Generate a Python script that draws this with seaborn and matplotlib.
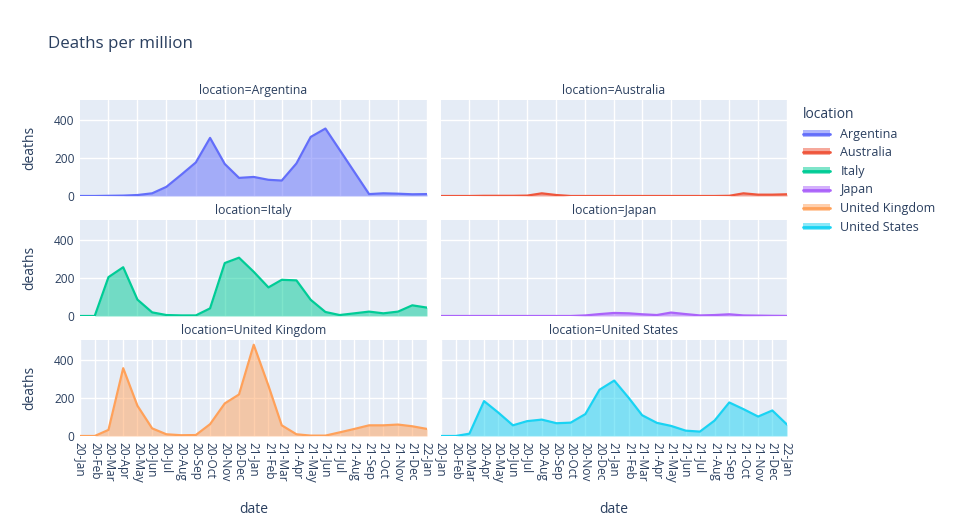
import pandas as pd
import numpy as np
import seaborn as sns
import matplotlib.pyplot as plt
from matplotlib.patches import Patch
from matplotlib.lines import Line2D

# monthly deaths per million, Jan 2020 .. Jan 2022
months = pd.date_range('2020-01-01', '2022-01-01', freq='MS')

argentina = [0, 0, 1, 2, 5, 14, 48, 111, 176, 305, 168, 95, 100, 85, 81,
             171, 310, 354, 242, 126, 10, 14, 12, 9, 10]
australia = [0, 0, 0, 1, 1, 1, 2, 14, 5, 0, 0, 0, 0, 0, 0,
             0, 0, 0, 0, 0, 1, 14, 7, 7, 9]
italy = [0, 0, 204, 256, 86, 19, 5, 3, 3, 40, 278, 306, 232, 150, 190,
         187, 85, 21, 5, 14, 23, 14, 23, 56, 44]
japan = [0, 0, 0, 0, 0, 0, 0, 0, 0, 0, 3, 10, 16, 14, 9,
         5, 18, 10, 3, 5, 9, 3, 2, 1, 0.5]
uk = [0, 0, 32, 356, 159, 40, 9, 4, 5, 62, 171, 218, 479, 264, 56,
      9, 2, 2, 19, 37, 56, 56, 60, 51, 37]
us = [0, 0, 12, 183, 123, 56, 78, 86, 67, 70, 115, 243, 291, 199, 109,
      69, 53, 28, 23, 81, 176, 141, 102, 134, 60]

locations = ['Argentina', 'Australia', 'Italy', 'Japan', 'United Kingdom', 'United States']
series = [argentina, australia, italy, japan, uk, us]
colors = ['#636EFA', '#EF553B', '#00CC96', '#AB63FA', '#FFA15A', '#19D3F3']

df = pd.concat([pd.DataFrame({'date': months, 'deaths': v, 'location': loc})
                for loc, v in zip(locations, series)], ignore_index=True)

sns.set_theme(style='darkgrid', rc={
    'axes.facecolor': '#E5ECF6',
    'grid.color': 'white',
    'grid.linewidth': 1.0,
    'text.color': '#2a3f5f',
    'axes.labelcolor': '#2a3f5f',
    'xtick.color': '#2a3f5f',
    'ytick.color': '#2a3f5f',
})
plt.rcParams['font.family'] = ['Open Sans', 'DejaVu Sans']

W, H = 954, 525
fig = plt.figure(figsize=(W / 100, H / 100), dpi=100)

col_x = [(80, 347), (441, 346)]
row_y = [(100, 196), (220, 316), (340, 436)]

for i, (loc, c) in enumerate(zip(locations, colors)):
    r, col = divmod(i, 2)
    x0, w = col_x[col]
    top, bot = row_y[r]
    ax = fig.add_axes([x0 / W, (H - bot) / H, w / W, (bot - top) / H])
    sub = df[df['location'] == loc]
    sns.lineplot(data=sub, x='date', y='deaths', color=c, linewidth=1.6, ax=ax, legend=False)
    ax.fill_between(sub['date'], sub['deaths'], color=c, alpha=0.5, linewidth=0)
    ax.set_xlim(months[0], months[-1])
    ax.set_ylim(0, 504)
    ax.set_yticks([0, 200, 400])
    for s in ax.spines.values():
        s.set_visible(False)
    ax.tick_params(length=0, labelsize=8.6, pad=4)
    ax.set_title(f'location={loc}', fontsize=8.8, pad=4, color='#2a3f5f')
    if r == 2:
        ax.set_xticks(months)
        ax.set_xticklabels([m.strftime('%y-%b') for m in months], rotation=-90)
        ax.set_xlabel('date', fontsize=10, labelpad=14)
    else:
        ax.set_xticks(months[2::2])
        ax.set_xticklabels([])
        ax.set_xlabel('')
    if col == 0:
        ax.set_ylabel('deaths', fontsize=10, labelpad=12)
    else:
        ax.set_yticklabels([])
        ax.set_ylabel('')

fig.text(48 / W, 1 - 44 / H, 'Deaths per million', fontsize=12.2, va='center', ha='left',
         color='#2a3f5f')

handles = [(Patch(facecolor=c, alpha=0.5, linewidth=0), Line2D([], [], color=c, linewidth=2))
           for c in colors]
leg = fig.legend(handles=handles, labels=locations, loc='upper left',
                 bbox_to_anchor=(798 / W, 1 - 102 / H), frameon=False, title='location',
                 fontsize=9, title_fontsize=10, handlelength=2.2, handleheight=0.5,
                 labelspacing=0.45, alignment='left', borderaxespad=0)
for t in leg.get_texts():
    t.set_color('#2a3f5f')
leg.get_title().set_color('#2a3f5f')

fig.savefig('out.png', dpi=100)
